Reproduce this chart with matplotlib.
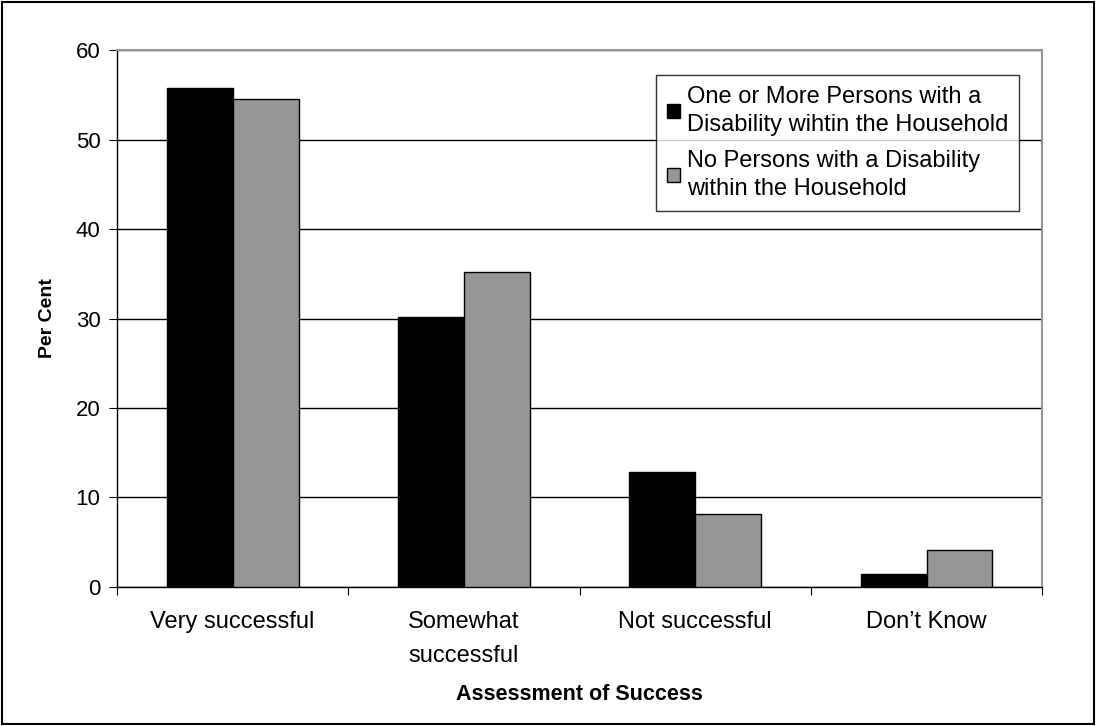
import matplotlib.pyplot as plt
import numpy as np
from matplotlib.patches import Rectangle

plt.rcParams['font.family'] = ['Liberation Sans', 'DejaVu Sans']

# categorias e percentagens
categorias = ["Very successful", "Somewhat\nsuccessful", "Not successful", "Don\u2019t Know"]
com_deficiencia = [55.8, 30.2, 12.8, 1.5]
sem_deficiencia = [54.5, 35.2, 8.2, 4.1]
rotulos = ["One or More Persons with a\nDisability wihtin the Household",
           "No Persons with a Disability\nwithin the Household"]
yticks = [0, 10, 20, 30, 40, 50, 60]

fig = plt.figure(figsize=(10.97, 7.26), dpi=100)
ax = fig.add_axes([0.1067, 0.1915, 0.8433, 0.7395])

x = np.arange(len(categorias))
largura = 0.285
ax.bar(x - largura / 2, com_deficiencia, largura, color='black',
       edgecolor='black', linewidth=1, label=rotulos[0], zorder=3)
ax.bar(x + largura / 2, sem_deficiencia, largura, color='#969696',
       edgecolor='black', linewidth=1, label=rotulos[1], zorder=3)

ax.set_xlim(-0.5, len(categorias) - 0.5)
ax.set_ylim(0, 60)
ax.set_yticks(yticks)
ax.yaxis.grid(True, color='black', linewidth=1, zorder=0)
ax.set_xticks(np.arange(len(categorias) + 1) - 0.5)
ax.set_xticklabels([])
ax.set_xticks(x, minor=True)
ax.set_xticklabels(categorias, minor=True, fontsize=17, linespacing=1.75)
ax.tick_params(axis='x', which='minor', length=0, pad=17)
ax.tick_params(axis='x', which='major', length=6, direction='out')
ax.tick_params(axis='y', length=6, labelsize=16, direction='out', pad=6)

for lado in ['top', 'right']:
    ax.spines[lado].set_color('#969696')
    ax.spines[lado].set_linewidth(1.5)
for lado in ['left', 'bottom']:
    ax.spines[lado].set_color('black')
    ax.spines[lado].set_linewidth(1)

ax.set_ylabel("Per Cent", fontsize=14, fontweight='bold', labelpad=14)
ax.set_xlabel("Assessment of Success", fontsize=15.5, fontweight='bold', labelpad=12)

leg = ax.legend(loc='upper left', bbox_to_anchor=(0.5829, 0.953), fontsize=17,
                frameon=True, fancybox=False, edgecolor='black',
                handlelength=0.55, handleheight=0.55, handletextpad=0.3,
                borderpad=0.45, borderaxespad=0, labelspacing=0.6)
leg.get_frame().set_linewidth(1)
for t in leg.get_texts():
    t.set_linespacing(1.35)

# moldura externa
fig.patches.append(Rectangle((0.002, 0.003), 0.995, 0.994, transform=fig.transFigure,
                             fill=False, edgecolor='black', linewidth=1.5))

plt.savefig('out.png', dpi=100)
